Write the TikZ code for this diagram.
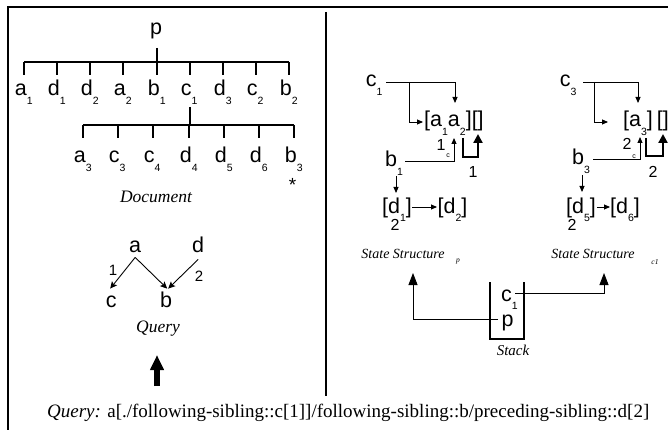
\documentclass[tikz,border=0pt]{standalone}
\usepackage{fontspec}
\setmainfont{Liberation Serif}
\setsansfont{Liberation Sans}
\usetikzlibrary{arrows.meta}
% deep, small index written below the letter's baseline
\newcommand{\lsb}[1]{\raisebox{-8.5pt}{\fontsize{10.5}{10.5}\selectfont #1}}
\begin{document}
\begin{tikzpicture}[x=1pt,y=-1pt,
  dlab/.style={font=\sffamily\fontsize{21.5}{21.5}\selectfont, inner sep=0pt, anchor=base west},
  dnum/.style={font=\sffamily\fontsize{16}{16}\selectfont, inner sep=0pt},
  dtiny/.style={font=\sffamily\fontsize{7}{7}\selectfont, inner sep=0pt},
  captxt/.style={font=\itshape\fontsize{17.5}{17.5}\selectfont, inner sep=0pt, anchor=base},
  scaptxt/.style={font=\itshape\fontsize{14}{14}\selectfont, inner sep=0pt, anchor=base},
  ssubtxt/.style={font=\itshape\fontsize{7.5}{7.5}\selectfont, inner sep=0pt},
  framelin/.style={line width=1.6pt},
  treelin/.style={line width=1.2pt},
  stemlin/.style={line width=2.4pt},
  linkarr/.style={line width=0.9pt, -{Triangle[length=6pt,width=5pt]}},
  qarrow/.style={line width=0.9pt, -{Stealth[length=7pt,width=6.5pt,inset=1.5pt]}},
  looparr/.style={line width=2.4pt, -{Triangle[length=9pt,width=9pt]}},
  stackarr/.style={line width=0.9pt, -{Triangle[length=12pt,width=9pt]}},
  stackwall/.style={line width=2.4pt}
]
\useasboundingbox (0,0) rectangle (668,430);
\clip (0,0) rectangle (668,430);

% outer frame and divider
\draw[framelin] (8,440) -- (8,7) -- (680,7);
\draw[treelin] (326,12) -- (326,396);

% ---------- document tree ----------
\node[dlab] (p) at (150,35) {p};
\coordinate (pj) at (157,62);
\draw[stemlin] (157,48) -- (pj);
\draw[treelin] (24,62) -- (289,62);
\foreach \x/\l/\s/\n in {24/a/1/a1, 57/d/1/d1, 90/d/2/d2, 123/a/2/a2, 157/b/1/b1,
                         190/c/1/c1, 223/d/3/d3, 256/c/2/c2, 289/b/2/b2} {
  \draw[treelin] (\x,62) -- (\x,75);
  \node[dlab] (t\n) at (\x-9.3,96) {\l\lsb{\s}};
}
\coordinate (cj) at (190,125);
\draw[stemlin] (190,107) -- (cj);
\draw[treelin] (83,125) -- (294,125);
\foreach \x/\l/\s/\n in {83/a/3/a3, 118/c/3/c3, 153/c/4/c4, 189/d/4/d4,
                         224/d/5/d5, 259/d/6/d6, 294/b/3/b3} {
  \draw[treelin] (\x,125) -- (\x,138);
  \node[dlab] (t\n) at (\x-9.3,163) {\l\lsb{\s}};
}
\node[dlab, anchor=base, font=\sffamily\fontsize{19}{19}\selectfont] (star) at (292.5,192) {*};
\node[captxt] (doc) at (156,203) {Document};

% ---------- query pattern ----------
\node[dlab] (qa) at (129,252) {a};
\node[dlab] (qd) at (192,252) {d};
\node[dlab] (qc) at (105.6,307) {c};
\node[dlab] (qb) at (160,307) {b};
\draw[qarrow] ([yshift=-5pt]qa.south) -- ([xshift=-1pt,yshift=6.6pt]qc.north);
\draw[qarrow] ([yshift=-5pt]qa.south) -- ([xshift=1pt,yshift=2.6pt]qb.north);
\draw[qarrow] ([yshift=-7pt]qd.south) -- ([xshift=2pt,yshift=2.6pt]qb.north);
\node[dnum, font=\sffamily\fontsize{15}{15}\selectfont] (q1) at (113,270) {1};
\node[dnum, font=\sffamily\fontsize{15}{15}\selectfont] (q2) at (199,276) {2};
\node[captxt] (qcap) at (158,332) {Query};

% big arrow towards the query
\coordinate (bigtail) at (157,386);
\coordinate (bigtip) at (157,355);
\draw[line width=6pt, -{Triangle[length=15pt,width=13pt]}] (bigtail) -- (bigtip);

% ---------- state structure of p ----------
\node[dlab] (sc1) at (365.6,87) {c\lsb{1}};
\node[dlab] (la1) at (424,127) {[a\lsb{1}a\lsb{2}][]};
\coordinate (sc1o) at (386,82);
\coordinate (sc1j) at (409,82);
\draw[linkarr] (sc1o) -- (455,82) -- (455,103);
\draw[linkarr] (sc1j) -- (409,122) -- (423,122);
\node[dlab] (sb1) at (385,167) {b\lsb{1}};
\draw[linkarr] (405,161) -- (454,161) -- (454,138);
\node[dnum] (l1a) at (441,144.5) {1};
\node[dtiny] (l1c) at (448,156) {c};
\draw[looparr] (463,138) -- (463,157) -- (478,157) -- (478,134);
\node[dnum] (l1b) at (473,172) {1};
\draw[linkarr] (396,176) -- (396,193);
\node[dlab] (sd1) at (382,213) {[d\lsb{1}]};
\node[dlab] (sd2) at (437.5,213) {[d\lsb{2}]};
\draw[linkarr] (412,207) -- (437,207);
\node[dnum] (l1d) at (395,225) {2};
\node[scaptxt] (ssp) at (403,258) {State Structure};
\node[ssubtxt] (sspsub) at (458,262) {p};

% ---------- state structure of c1 ----------
\node[dlab] (sc3) at (559.6,87) {c\lsb{3}};
\node[dlab] (la3) at (623,127) {[a\lsb{3}]\hspace{4pt}[]};
\coordinate (sc3o) at (583,82);
\coordinate (sc3j) at (594,82);
\draw[linkarr] (sc3o) -- (638,82) -- (638,103);
\draw[linkarr] (sc3j) -- (594,122) -- (608,122);
\node[dlab] (sb3) at (572,165) {b\lsb{3}};
\draw[linkarr] (593,159) -- (640,159) -- (640,137);
\node[dnum] (l3a) at (627,144) {2};
\node[dtiny] (l3c) at (634,157) {c};
\draw[looparr] (646,138) -- (646,156) -- (663,156) -- (663,134);
\node[dnum] (l3b) at (653,172) {2};
\draw[linkarr] (582,175) -- (582,192);
\node[dlab] (sd5) at (566,213) {[d\lsb{5}]};
\node[dlab] (sd6) at (610,213) {[d\lsb{6}]};
\draw[linkarr] (597,207) -- (610,207);
\node[dnum] (l3d) at (572,225) {2};
\node[scaptxt] (ssc) at (593,258) {State Structure};
\node[ssubtxt] (sscsub) at (655,262) {c1};

% ---------- stack ----------
\draw[stackwall] (490,282) -- (490,339) -- (524,339) -- (524,282);
\node[dlab] (stc1) at (501,301) {c\lsb{1}};
\node[dlab] (stp) at (501.4,326) {p};
\node[captxt, font=\itshape\fontsize{15}{15}\selectfont] (stk) at (513,355) {Stack};
\coordinate (stc1o) at (515,293);
\coordinate (stpo) at (498,319);
\draw[stackarr] (stc1o) -- (604,293) -- (604,273);
\draw[stackarr] (stpo) -- (413,319) -- (413,273);

% ---------- query text ----------
\node[font=\fontsize{19}{19}\selectfont, inner sep=0pt, anchor=base west] (qtext) at (47,417)
  {\textit{Query:} a[./following-sibling::c[1]]/following-sibling::b/preceding-sibling::d[2]};
\end{tikzpicture}
\end{document}
